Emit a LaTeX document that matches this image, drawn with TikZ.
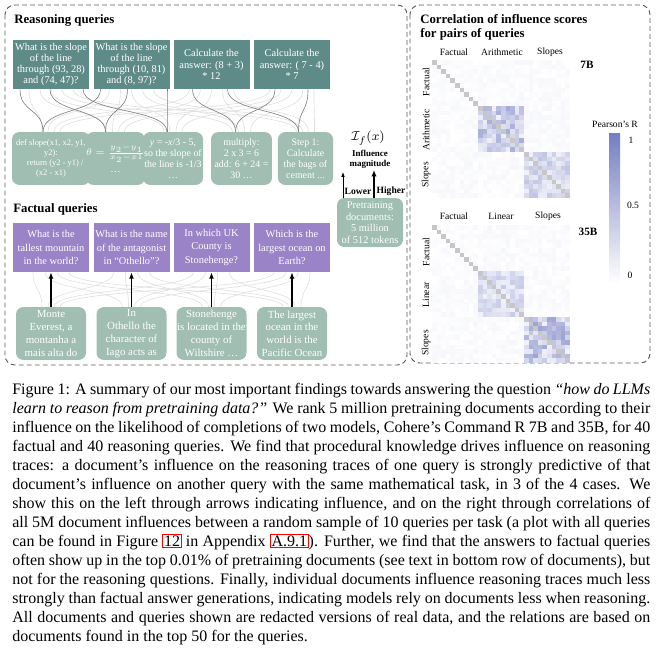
\documentclass[tikz,border=0pt]{standalone}
\usepackage{fontspec}
\setmainfont{Liberation Serif}
\usetikzlibrary{arrows.meta,calc}

\definecolor{qteal}{RGB}{94,139,136}
\definecolor{docgreen}{RGB}{160,190,178}
\definecolor{qpurple}{RGB}{155,131,200}
\definecolor{heat}{RGB}{116,126,194}
\definecolor{framegray}{RGB}{90,90,90}

\newcommand{\linkbox}[1]{{\setlength{\fboxsep}{0.4pt}\setlength{\fboxrule}{0.6pt}\fcolorbox{red}{white}{#1}}}

\tikzset{
  query/.style={inner sep=0pt, align=center, text=white, minimum height=30.6pt},
  doc/.style={rounded corners=4.5pt, inner sep=0pt, align=center, text=white, fill=docgreen, minimum height=33pt},
  title/.style={anchor=west, inner sep=0pt, font=\fontsize{8}{9.5}\selectfont\bfseries},
  link/.style={draw=black!50, line width=0.4pt},
  faint/.style={draw=black!12, line width=0.4pt},
  hard/.style={-{Latex[length=4pt,width=3.2pt]}, line width=1.1pt},
  axislabel/.style={inner sep=0pt, font=\fontsize{6}{7}\selectfont},
  panel/.style={draw=framegray, dash pattern=on 3pt off 2pt, line width=0.6pt, rounded corners=6pt},
}

\begin{document}
\begin{tikzpicture}[x=0.625pt, y=-0.625pt]
  \useasboundingbox (0,0) rectangle (660,656);

  % dashed panels
  \draw[panel] (5,5) rectangle (407,365);
  \draw[panel] (410,5) rectangle (650,363);

  \node[title] (rtitle) at (14,20) {Reasoning queries};
  \node[title] (ftitle) at (13,209) {Factual queries};

  % reasoning queries
  \begin{scope}[every node/.style={query, fill=qteal, minimum width=47.5pt, font=\fontsize{6.5}{7}\selectfont}]
    \node (q1) at (51,64.5)    {What is the slope\\of the line\\through (93, 28)\\and (74, 47)?};
    \node (q2) at (131.5,64.5) {What is the slope\\of the line\\through (10, 81)\\and (8, 97)?};
    \node (q3) at (211.5,64.5) {Calculate the\\answer: (8 + 3)\\* 12};
    \node (q4) at (292,64.5)   {Calculate the\\answer: ( 7 - 4)\\* 7};
  \end{scope}

  % reasoning documents
  \begin{scope}[every node/.style={doc, font=\fontsize{6.2}{6.9}\selectfont}]
    \node[minimum width=48.75pt, font=\fontsize{5.3}{6.2}\selectfont] (d1) at (51,158.5) {def slope(x1, x2, y1,\\y2):\\\quad return (y2 - y1) /\\(x2 - x1)};
    \node[minimum width=28.1pt, font=\fontsize{6.4}{7.4}\selectfont] (d2) at (115.5,158.5) {$\theta=\frac{y_2-y_1}{x_2-x1}$\\[3pt]\dots};
    \node[minimum width=37.5pt] (d3) at (173,158.5)   {\emph{y} = -\emph{x}/3 - 5,\\so the slope of\\the line is -1/3\\\dots};
    \node[minimum width=38.1pt] (d4) at (241.5,158.5) {multiply:\\2 x 3 = 6\\add: 6 + 24 =\\30 \dots};
    \node[minimum width=34.4pt] (d5) at (305.5,158.5) {Step 1:\\Calculate\\the bags of\\cement ...};
  \end{scope}

  % factual queries
  \begin{scope}[every node/.style={query, fill=qpurple, minimum width=47.5pt, font=\fontsize{6.5}{8.4}\selectfont}]
    \node (f1) at (51,247.5)    {What is the\\tallest mountain\\in the world?};
    \node (f2) at (131.5,247.5) {What is the name\\of the antagonist\\in “Othello”?};
    \node (f3) at (211.5,247.5) {In which UK\\County is\\Stonehenge?};
    \node (f4) at (292,247.5)   {Which is the\\largest ocean on\\Earth?};
  \end{scope}

  % factual documents
  \begin{scope}[every node/.style={doc, minimum width=43.75pt, font=\fontsize{6.8}{8}\selectfont}]
    \node (g1) at (51,333.5)    {Monte\\Everest, a\\montanha a\\mais alta do};
    \node (g2) at (131.5,333.5) {In\\Othello the\\character of\\Iago acts as};
    \node (g3) at (211.5,333.5) {Stonehenge\\is located in the\\county of\\Wiltshire \dots};
    \node (g4) at (292,333.5)   {The largest\\ocean in the\\world is the\\Pacific Ocean};
  \end{scope}

  % faint links
  \foreach \a in {1,...,4}
    \foreach \b in {1,...,5}
      \draw[faint] ($(q\a.south)+({(\b-3)*11},0)$) .. controls +(0,26) and +(0,-26) .. ($(d\b.north)+({(\a-2.5)*6},0)$);
  \foreach \a in {1,...,4}
    \foreach \b in {1,...,4}
      \draw[faint] ($(f\a.south)+({(\b-2.5)*12},0)$) .. controls +(0,18) and +(0,-18) .. ($(g\b.north)+({(\a-2.5)*6},0)$);

  % strong links
  \foreach \a/\s/\b/\t in {1/-31/1/-8, 1/-1/2/-10, 1/32/3/-6, 2/-31/1/-8, 2/-4/2/-10,
                           2/35.5/3/-6, 3/-19/4/-6, 3/16/5/-7, 4/-17/4/-6, 4/16/5/-7}
    \draw[link] ($(q\a.south)+(\s,0)$) .. controls +(0,24) and +(0,-24) .. ($(d\b.north)+(\t,0)$);
  \foreach \i in {1,...,4}
    \draw[hard] (g\i) -- (f\i);

  % influence legend
  \node[doc, minimum width=41.25pt, minimum height=30.6pt, font=\fontsize{6.5}{7.2}\selectfont] (pre) at (370,222.5) {Pretraining\\documents:\\5 million\\of 512 tokens};
  \coordinate (low) at (343,172);
  \coordinate (high) at (374,170);
  \draw[-{Latex[length=3pt,width=2.2pt]}, line width=0.4pt] (pre.north -| low) -- (low);
  \draw[-{Latex[length=4pt,width=3.4pt]}, line width=1.2pt] (pre.north -| high) -- (high);
  \node[axislabel, font=\fontsize{6}{7}\selectfont\bfseries] (lower) at (358,191) {Lower};
  \node[axislabel, font=\fontsize{6}{7}\selectfont\bfseries] (higher) at (391,191) {Higher};
  \node[inner sep=0pt, align=center, font=\fontsize{5.6}{6.6}\selectfont\bfseries] (mag) at (370,159.5) {Influence\\magnitude};
  \node[inner sep=0pt, font=\fontsize{8}{9}\selectfont] (infl) at (368,138) {$\mathcal{I}_f(x)$};

  % correlation panel
  \node[title, align=left, font=\fontsize{8}{8.75}\selectfont\bfseries] (ctitle) at (420,27) {Correlation of influence scores\\for pairs of queries};

  \pgfmathsetseed{42}
  \foreach \ytop/\amax/\bmax in {60/55/35, 225/30/60}{
    \foreach \i in {0,...,29}{
      \foreach \j in {0,...,29}{
        \pgfmathtruncatemacro{\gi}{\i/10}
        \pgfmathtruncatemacro{\gj}{\j/10}
        \ifnum\i=\j
          \fill[black!22] ({432+4.6*\j},{\ytop+4.6*\i}) rectangle +(4.6,4.6);
        \else
          \pgfmathsetmacro{\v}{\gi==\gj ? (\gi==1 ? 10+\amax*rnd : (\gi==2 ? 10+\bmax*rnd : 5*rnd)) : 6*rnd}
          \fill[heat!\v] ({432+4.6*\j},{\ytop+4.6*\i}) rectangle +(4.6,4.6);
        \fi
      }
    }
  }

  \node[axislabel] (c1) at (454,52) {Factual};
  \node[axislabel] (c2) at (502,52) {Arithmetic};
  \node[axislabel] (c3) at (550,52) {Slopes};
  \node[axislabel, rotate=90] (r1) at (426,82) {Factual};
  \node[axislabel, rotate=90] (r2) at (426,130) {Arithmetic};
  \node[axislabel, rotate=90] (r3) at (426,175) {Slopes};
  \node[axislabel, font=\fontsize{7}{8}\selectfont\bfseries] (m7) at (587,65) {7B};

  \node[axislabel] (k1) at (454,216) {Factual};
  \node[axislabel] (k2) at (501,216) {Linear};
  \node[axislabel] (k3) at (548,216) {Slopes};
  \node[axislabel, rotate=90] (s1) at (426,252) {Factual};
  \node[axislabel, rotate=90] (s2) at (426,295) {Linear};
  \node[axislabel, rotate=90] (s3) at (426,343) {Slopes};
  \node[axislabel, font=\fontsize{7}{8}\selectfont\bfseries] (m35) at (588,232) {35B};

  % colour bar
  \shade[top color=heat, bottom color=white] (609,133) rectangle (620,283);
  \node[axislabel] (pr) at (615,124) {Pearson’s R};
  \node[axislabel] (t1) at (631,140) {1};
  \node[axislabel] (t2) at (633,205) {0.5};
  \node[axislabel] (t0) at (630,275) {0};

  % caption
  \node[anchor=north west, inner sep=0pt, text width=398.75pt, align=justify, font=\fontsize{10}{11.875}\selectfont] (cap) at (12,383) {\tolerance=9999\pretolerance=-1\hyphenpenalty=10000
    Figure 1: A summary of our most important findings towards answering the question \emph{“how do LLMs}\linebreak
    \emph{learn to reason from pretraining data?”} We rank 5 million pretraining documents according to their\linebreak
    influence on the likelihood of completions of two models, Cohere’s Command R 7B and 35B, for 40\linebreak
    factual and 40 reasoning queries. We find that procedural knowledge drives influence on reasoning\linebreak
    traces: a document’s influence on the reasoning traces of one query is strongly predictive of that\linebreak
    document’s influence on another query with the same mathematical task, in 3 of the 4 cases. We\linebreak
    show this on the left through arrows indicating influence, and on the right through correlations of\linebreak
    all 5M document influences between a random sample of 10 queries per task (a plot with all queries\linebreak
    can be found in Figure \linkbox{12} in Appendix \linkbox{A.9.1}). Further, we find that the answers to factual queries\linebreak
    often show up in the top 0.01\% of pretraining documents (see text in bottom row of documents), but\linebreak
    not for the reasoning questions. Finally, individual documents influence reasoning traces much less\linebreak
    strongly than factual answer generations, indicating models rely on documents less when reasoning.\linebreak
    All documents and queries shown are redacted versions of real data, and the relations are based on\linebreak
    documents found in the top 50 for the queries.};
\end{tikzpicture}
\end{document}
